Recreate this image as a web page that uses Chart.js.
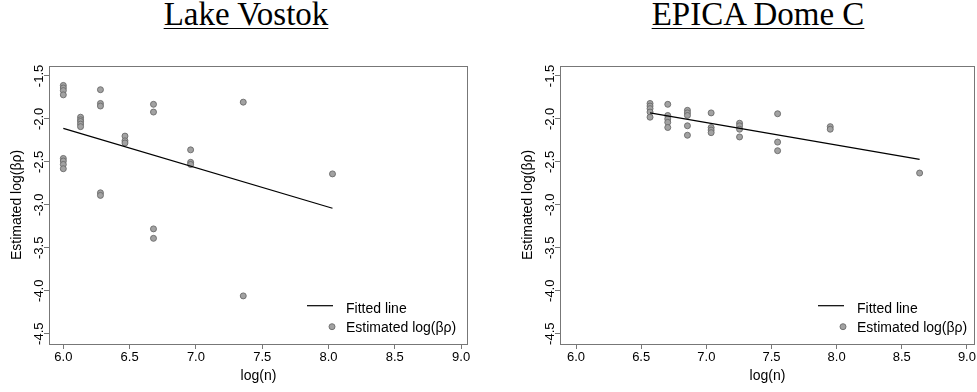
<!DOCTYPE html>
<html>
<head>
<meta charset="utf-8">
<title>Estimated log(βρ) vs log(n)</title>
<script src="https://cdn.jsdelivr.net/npm/chart.js@4.4.1/dist/chart.umd.min.js"></script>
<style>
    html, body { margin: 0; padding: 0; background: #fff; }
    #page { position: relative; width: 977px; height: 392px; overflow: hidden; }
    .panel-title {
        position: absolute; top: -2px;
        font-family: "Liberation Serif", "DejaVu Serif", serif;
        font-size: 33px; line-height: 33px; color: #000;
        text-decoration: underline; text-decoration-thickness: 1px; text-underline-offset: 3px;
        white-space: nowrap; transform: translateX(-50%);
    }
    canvas { position: absolute; top: 0; }
</style>
</head>
<body>
<div id="page">
    <div class="panel-title" style="left:246px">Lake Vostok</div>
    <div class="panel-title" style="left:758px">EPICA Dome C</div>
    <canvas id="chart_vostok" width="488" height="392" style="left:0"></canvas>
    <canvas id="chart_dome" width="466" height="392" style="left:511px"></canvas>
</div>
<script>
// Lake Vostok - estimates per record length
var vostokLogN = [6.00, 6.00, 6.00, 6.00, 6.00, 6.00, 6.00, 6.00,
                  6.13, 6.13, 6.13, 6.13, 6.13,
                  6.28, 6.28, 6.28, 6.28, 6.28,
                  6.465, 6.465, 6.465,
                  6.68, 6.68, 6.68, 6.68,
                  6.96, 6.96, 6.96,
                  7.357, 7.357,
                  8.03];
var vostokLogBetaRho = [-1.61, -1.64, -1.67, -1.72, -2.46, -2.49, -2.53, -2.58,
                        -1.98, -2.01, -2.03, -2.06, -2.09,
                        -1.66, -1.82, -1.85, -2.86, -2.89,
                        -2.20, -2.255, -2.28,
                        -1.83, -1.92, -3.28, -3.39,
                        -2.36, -2.505, -2.53,
                        -1.805, -4.06,
                        -2.64];
var vostokFitLogN = [6.00, 8.03];
var vostokFitLogBetaRho = [-2.11, -3.04];

// EPICA Dome C
var domeLogN = [6.568, 6.568, 6.568, 6.568, 6.568,
                6.704, 6.704, 6.704, 6.704, 6.704,
                6.855, 6.855, 6.855, 6.855, 6.855,
                7.037, 7.037, 7.037, 7.037,
                7.255, 7.255, 7.255, 7.255,
                7.547, 7.547, 7.547,
                7.951, 7.951,
                8.637];
var domeLogBetaRho = [-1.82, -1.85, -1.88, -1.92, -1.98,
                      -1.83, -1.96, -2.00, -2.04, -2.10,
                      -1.90, -1.93, -1.96, -2.08, -2.19,
                      -1.93, -2.10, -2.13, -2.16,
                      -2.05, -2.08, -2.12, -2.21,
                      -1.94, -2.27, -2.37,
                      -2.09, -2.12,
                      -2.63];
var domeFitLogN = [6.568, 8.637];
var domeFitLogBetaRho = [-1.93, -2.47];

// Axes
var xTicks = [6.0, 6.5, 7.0, 7.5, 8.0, 8.5, 9.0];
var xTickLabels = ['6.0', '6.5', '7.0', '7.5', '8.0', '8.5', '9.0'];
var yTicks = [-4.5, -4.0, -3.5, -3.0, -2.5, -2.0, -1.5];
var yTickLabels = ['-4.5', '-4.0', '-3.5', '-3.0', '-2.5', '-2.0', '-1.5'];
var xTitle = 'log(n)';
var yTitle = 'Estimated log(βρ)';
var legendLabels = ['Fitted line', 'Estimated log(βρ)'];

var SANS = '"Liberation Sans", Arial, sans-serif';
Chart.defaults.font.family = SANS;
Chart.defaults.color = '#000';

var AXIS_GREY = '#777777';

// R style box() round the plot region
var plotBox = {
    id: 'plotBox',
    afterDatasetsDraw: function(chart) {
        var a = chart.chartArea, ctx = chart.ctx;
        ctx.save();
        ctx.strokeStyle = AXIS_GREY;
        ctx.lineWidth = 1;
        ctx.strokeRect(Math.round(a.left) + 0.5, Math.round(a.top) + 0.5,
                       Math.round(a.right - a.left) - 1, Math.round(a.bottom - a.top));
        ctx.restore();
    }
};

// y tick labels parallel to the axis (R las=0), placed from the y scale
var uprightYLabels = {
    id: 'uprightYLabels',
    afterDraw: function(chart) {
        var scale = chart.scales.y, ctx = chart.ctx;
        var x = chart.chartArea.left - 10;
        ctx.save();
        ctx.font = '13px ' + SANS;
        ctx.fillStyle = '#000';
        ctx.textAlign = 'center';
        ctx.textBaseline = 'middle';
        yTicks.forEach(function(v, i) {
            ctx.save();
            ctx.translate(x, scale.getPixelForValue(v));
            ctx.rotate(-Math.PI / 2);
            ctx.fillText(yTickLabels[i], 0, 0);
            ctx.restore();
        });
        ctx.restore();
    }
};

// legend with bty="n", sitting in the bottom right corner of the plot
var cornerLegend = {
    id: 'cornerLegend',
    afterDraw: function(chart, args, opts) {
        var a = chart.chartArea, ctx = chart.ctx;
        var x0 = a.right - opts.shift;
        var sets = chart.data.datasets;
        ctx.save();
        ctx.font = '14px ' + SANS;
        ctx.fillStyle = '#000';
        ctx.textBaseline = 'alphabetic';
        ctx.textAlign = 'left';

        // line sample
        var y1 = a.bottom - 38.3;
        ctx.strokeStyle = sets[0].borderColor;
        ctx.lineWidth = sets[0].borderWidth;
        ctx.beginPath();
        ctx.moveTo(x0, y1);
        ctx.lineTo(x0 + 26, y1);
        ctx.stroke();
        ctx.fillText(sets[0].label, x0 + 39, y1 + 6.8);

        // point sample
        var y2 = a.bottom - 17.3;
        ctx.beginPath();
        ctx.arc(x0 + 25, y2, sets[1].pointRadius, 0, Math.PI * 2);
        ctx.fillStyle = sets[1].backgroundColor;
        ctx.fill();
        ctx.strokeStyle = sets[1].borderColor;
        ctx.lineWidth = sets[1].borderWidth;
        ctx.stroke();
        ctx.fillStyle = '#000';
        ctx.fillText(sets[1].label, x0 + 39, y2 + 5);
        ctx.restore();
    }
};

function toPoints(xs, ys) {
    return xs.map(function(v, i) { return {x: v, y: ys[i]}; });
}

function fixedTicks(values, labels) {
    return {
        build: function(scale) {
            scale.ticks = values.map(function(v) { return {value: v}; });
        },
        label: function(scale) {
            scale.ticks.forEach(function(t, i) { t.label = labels[i]; });
        }
    };
}

var xFixed = fixedTicks(xTicks, xTickLabels);
var yFixed = fixedTicks(yTicks, yTickLabels);

function buildChart(canvasId, logN, logBetaRho, fitLogN, fitLogBetaRho, xMin, xMax, padRight, legendShift) {
    return new Chart(document.getElementById(canvasId), {
        type: 'scatter',
        data: {
            datasets: [{
                label: legendLabels[0],
                data: toPoints(fitLogN, fitLogBetaRho),
                showLine: true,
                borderColor: '#000',
                borderWidth: 1.2,
                pointRadius: 0
            }, {
                label: legendLabels[1],
                data: toPoints(logN, logBetaRho),
                pointRadius: 3,
                backgroundColor: '#a2a2a2',
                borderColor: '#6a6a6a',
                borderWidth: 0.9
            }]
        },
        options: {
            responsive: false,
            animation: false,
            events: [],
            layout: { autoPadding: false, padding: { left: 0, top: 66, right: padRight, bottom: 0 } },
            plugins: {
                legend: { display: false },
                tooltip: { enabled: false },
                cornerLegend: { shift: legendShift }
            },
            scales: {
                x: {
                    type: 'linear',
                    min: xMin,
                    max: xMax,
                    afterBuildTicks: xFixed.build,
                    afterTickToLabelConversion: xFixed.label,
                    afterFit: function(scale) { scale.height = 48; },
                    grid: { drawOnChartArea: false, color: AXIS_GREY, tickLength: 5 },
                    border: { display: false },
                    ticks: { font: { size: 13 }, padding: 1, maxRotation: 0, autoSkip: false },
                    title: { display: true, text: xTitle, font: { size: 14 }, padding: { top: 0, bottom: 7 } }
                },
                y: {
                    type: 'linear',
                    min: -4.62,
                    max: -1.384,
                    afterBuildTicks: yFixed.build,
                    afterTickToLabelConversion: yFixed.label,
                    afterFit: function(scale) { scale.width = 49; },
                    grid: { drawOnChartArea: false, color: AXIS_GREY, tickLength: 5 },
                    border: { display: false },
                    // labels are drawn upright by the uprightYLabels plugin
                    ticks: { display: false, autoSkip: false },
                    title: { display: true, text: yTitle, font: { size: 14 }, padding: { top: 9, bottom: 0 } }
                }
            }
        },
        plugins: [plotBox, uprightYLabels, cornerLegend]
    });
}

buildChart('chart_vostok', vostokLogN, vostokLogBetaRho, vostokFitLogN, vostokFitLogBetaRho,
           5.892, 9.052, 20, 161);
buildChart('chart_dome', domeLogN, domeLogBetaRho, domeFitLogN, domeFitLogBetaRho,
           5.877, 9.062, 2, 157);
</script>
</body>
</html>
